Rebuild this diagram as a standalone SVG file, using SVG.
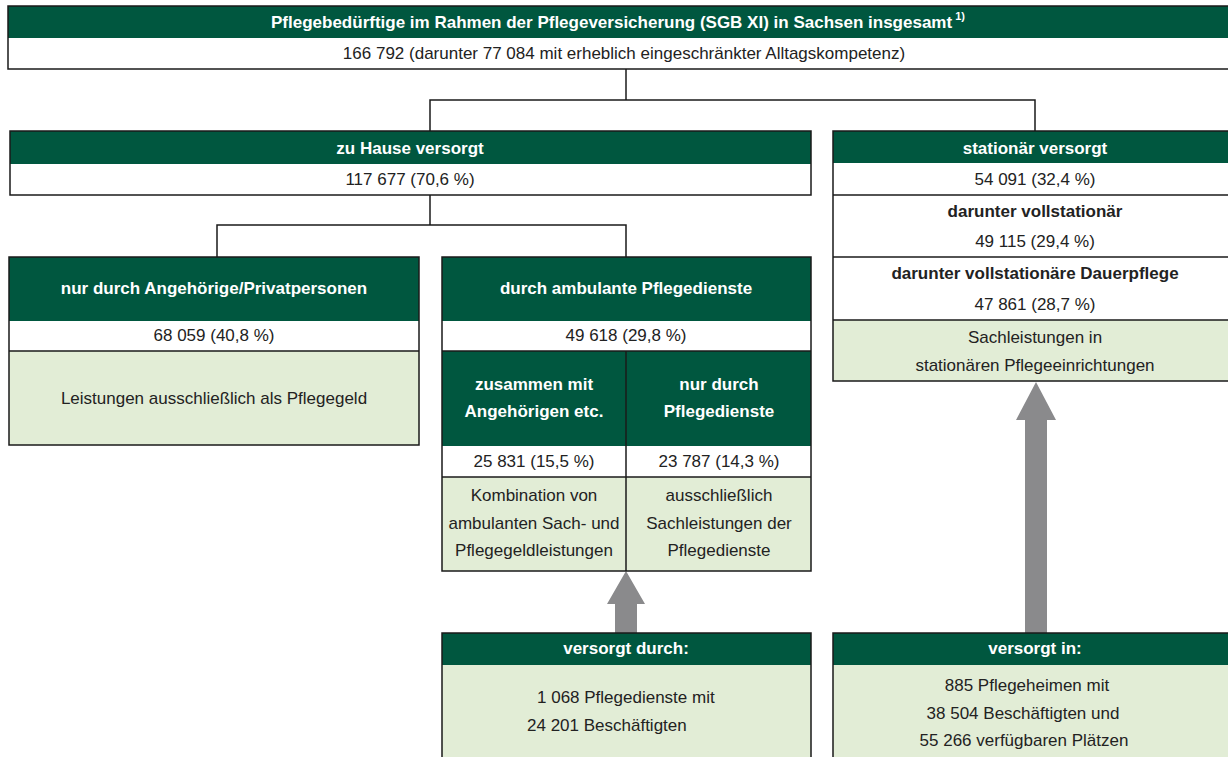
<svg xmlns="http://www.w3.org/2000/svg" width="1228" height="757" viewBox="0 0 1228 757">
<style>
.hd{fill:#00573f}
.wh{fill:#ffffff}
.lg{fill:#e2edd6}
.bd{fill:none;stroke:#1a1a1a;stroke-width:1.5}
.ln{stroke:#1a1a1a;stroke-width:1.5;fill:none}
text{font-family:"Liberation Sans",Arial,sans-serif;font-size:17px;fill:#222;text-anchor:middle;dominant-baseline:central}
.ht{fill:#ffffff;font-weight:bold}
.bt{font-weight:bold}
.arr{fill:#8a8a8c}
</style>
<rect width="1228" height="757" fill="#ffffff"/>
<g id="connectors">
<polyline class="ln" points="626,69 626,100"/>
<polyline class="ln" points="430,133 430,100 1035,100 1035,133"/>
<polyline class="ln" points="430,195 430,225"/>
<polyline class="ln" points="217,257 217,225 626,225 626,257"/>
<polygon class="arr" points="626,571 645,604 637,604 637,633 615,633 615,604 607,604"/>
<polygon class="arr" points="1036,382 1056,420 1047,420 1047,633 1025,633 1025,420 1016,420"/>
</g>
<g id="total">
<rect class="hd" x="8" y="6" width="1222" height="32"/>
<rect class="wh" x="8" y="38" width="1222" height="31"/>
<rect class="bd" x="8" y="6" width="1222" height="63"/>
<text class="ht" x="618" y="22">Pflegebedürftige im Rahmen der Pflegeversicherung (SGB XI) in Sachsen insgesamt<tspan font-size="11" dy="-6"> 1)</tspan></text>
<text x="624" y="53">166 792 (darunter 77 084 mit erheblich eingeschränkter Alltagskompetenz)</text>
</g>
<g id="zuhause">
<rect class="hd" x="10" y="131" width="801" height="33"/>
<rect class="wh" x="10" y="164" width="801" height="31"/>
<rect class="bd" x="10" y="131" width="801" height="64"/>
<text class="ht" x="410" y="148">zu Hause versorgt</text>
<text x="410" y="179">117 677 (70,6 %)</text>
</g>
<g id="stationaer">
<rect class="hd" x="833" y="131" width="397" height="32"/>
<rect class="wh" x="833" y="163" width="397" height="157"/>
<rect class="lg" x="833" y="320" width="397" height="61"/>
<rect class="bd" x="833" y="131" width="397" height="250"/>
<line class="ln" x1="833" y1="195" x2="1230" y2="195"/>
<line class="ln" x1="833" y1="257" x2="1230" y2="257"/>
<line class="ln" x1="833" y1="320" x2="1230" y2="320"/>
<text class="ht" x="1035" y="148">stationär versorgt</text>
<text x="1035" y="179">54 091 (32,4 %)</text>
<text class="bt" x="1035" y="211">darunter vollstationär</text>
<text x="1035" y="241">49 115 (29,4 %)</text>
<text class="bt" x="1035" y="273">darunter vollstationäre Dauerpflege</text>
<text x="1035" y="304">47 861 (28,7 %)</text>
<text x="1035" y="337">Sachleistungen in</text>
<text x="1035" y="365">stationären Pflegeeinrichtungen</text>
</g>
<g id="angehoerige">
<rect class="hd" x="9" y="257" width="410" height="64"/>
<rect class="wh" x="9" y="321" width="410" height="30"/>
<rect class="lg" x="9" y="351" width="410" height="94"/>
<rect class="bd" x="9" y="257" width="410" height="188"/>
<line class="ln" x1="9" y1="351" x2="419" y2="351"/>
<text class="ht" x="214" y="288">nur durch Angehörige/Privatpersonen</text>
<text x="214" y="335">68 059 (40,8 %)</text>
<text x="214" y="398">Leistungen ausschließlich als Pflegegeld</text>
</g>
<g id="ambulant">
<rect class="hd" x="442" y="257" width="369" height="64"/>
<rect class="wh" x="442" y="321" width="369" height="30"/>
<rect class="hd" x="442" y="351" width="369" height="95"/>
<rect class="wh" x="442" y="446" width="369" height="31"/>
<rect class="lg" x="442" y="477" width="369" height="94"/>
<rect class="bd" x="442" y="257" width="369" height="314"/>
<line class="ln" x1="442" y1="351" x2="811" y2="351"/>
<line class="ln" x1="442" y1="477" x2="811" y2="477"/>
<line class="ln" x1="626" y1="351" x2="626" y2="571"/>
<text class="ht" x="626" y="288">durch ambulante Pflegedienste</text>
<text x="626" y="335">49 618 (29,8 %)</text>
<text class="ht" x="534" y="384">zusammen mit</text>
<text class="ht" x="534" y="411">Angehörigen etc.</text>
<text class="ht" x="719" y="384">nur durch</text>
<text class="ht" x="719" y="411">Pflegedienste</text>
<text x="534" y="461">25 831 (15,5 %)</text>
<text x="719" y="461">23 787 (14,3 %)</text>
<text x="534" y="495">Kombination von</text>
<text x="534" y="523">ambulanten Sach- und</text>
<text x="534" y="550">Pflegegeldleistungen</text>
<text x="719" y="495">ausschließlich</text>
<text x="719" y="523">Sachleistungen der</text>
<text x="719" y="550">Pflegedienste</text>
</g>
<g id="versorgtdurch">
<rect class="hd" x="442" y="633" width="369" height="32"/>
<rect class="lg" x="442" y="665" width="369" height="95"/>
<rect class="bd" x="442" y="633" width="369" height="130"/>
<text class="ht" x="626" y="648">versorgt durch:</text>
<text x="537" y="697" style="text-anchor:start">1 068 Pflegedienste mit</text>
<text x="527" y="725" style="text-anchor:start">24 201 Beschäftigten</text>
</g>
<g id="versorgtin">
<rect class="hd" x="833" y="633" width="397" height="32"/>
<rect class="lg" x="833" y="665" width="397" height="95"/>
<rect class="bd" x="833" y="633" width="397" height="130"/>
<text class="ht" x="1035" y="648">versorgt in:</text>
<text x="1027" y="685">885 Pflegeheimen mit</text>
<text x="1023" y="713">38 504 Beschäftigten und</text>
<text x="1024" y="740">55 266 verfügbaren Plätzen</text>
</g>
</svg>
